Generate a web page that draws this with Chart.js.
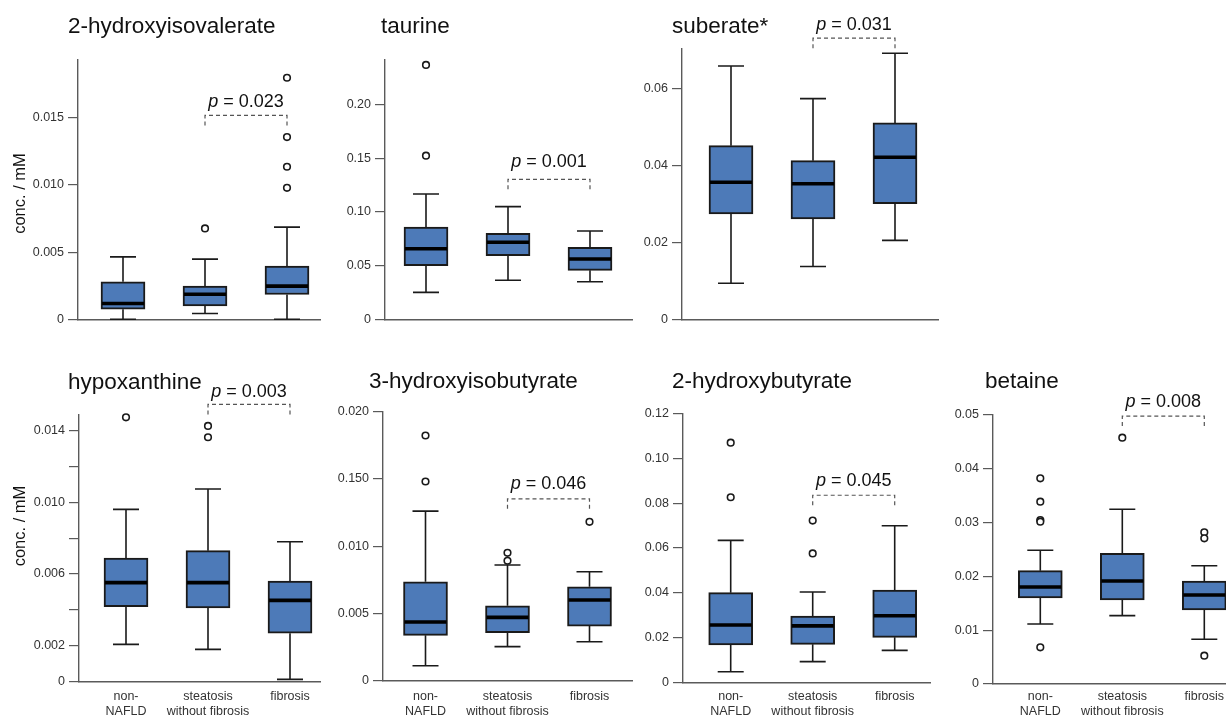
<!DOCTYPE html>
<html>
<head>
<meta charset="utf-8">
<script src="https://cdn.jsdelivr.net/npm/chart.js@4.4.1/dist/chart.umd.min.js"></script>
<style>
  html, body { margin: 0; padding: 0; background: #fff; overflow: hidden; }
  #wrap { position: relative; width: 1226px; height: 717px; overflow: hidden; }
  #wrap canvas { position: absolute; }
</style>
</head>
<body>
<div id="wrap"></div>
<script>
// groups on the x axis
const categories = ['non-NAFLD', 'steatosis without fibrosis', 'fibrosis'];
const categoryLabels = [['non-', 'NAFLD'], ['steatosis', 'without fibrosis'], ['fibrosis']];

// each box: [lower whisker, Q1, median, Q3, upper whisker], concentrations in mM
const hivTitle = '2-hydroxyisovalerate';
const hivBoxes = [[0.00002, 0.00077, 0.00119, 0.00280, 0.00466], [0.00045, 0.00101, 0.00188, 0.00248, 0.00449], [0.00002, 0.00186, 0.00248, 0.00397, 0.00687]];
const hivOutliers = [[1, 0.00677], [2, 0.01798], [2, 0.01357], [2, 0.01136], [2, 0.00979]];
const hivTicks = [0, 0.005, 0.010, 0.015];
const hivTickLabels = ['0', '0.005', '0.010', '0.015'];
const hivP = '0.023', hivBracket = 0.01518;

const tauTitle = 'taurine';
const tauBoxes = [[0.0251, 0.0499, 0.0657, 0.0859, 0.1167], [0.0363, 0.0592, 0.0717, 0.0801, 0.1049], [0.0350, 0.0456, 0.0561, 0.0670, 0.0822]];
const tauOutliers = [[0, 0.2368], [0, 0.1523]];
const tauTicks = [0, 0.05, 0.10, 0.15, 0.20];
const tauTickLabels = ['0', '0.05', '0.10', '0.15', '0.20'];
const tauP = '0.001', tauBracket = 0.1303;

const subTitle = 'suberate*';
const subBoxes = [[0.00935, 0.0274, 0.0356, 0.0451, 0.0658], [0.0137, 0.0261, 0.0352, 0.0412, 0.0573], [0.0205, 0.0300, 0.0421, 0.0510, 0.0691]];
const subOutliers = [];
const subTicks = [0, 0.02, 0.04, 0.06];
const subTickLabels = ['0', '0.02', '0.04', '0.06'];
const subP = '0.031', subBracket = 0.0730;

const hypTitle = 'hypoxanthine';
const hypBoxes = [[0.00208, 0.00418, 0.00552, 0.00689, 0.00960], [0.00180, 0.00411, 0.00552, 0.00730, 0.01074], [0.00013, 0.00270, 0.00453, 0.00561, 0.00780]];
const hypOutliers = [[0, 0.01473], [1, 0.01425], [1, 0.01362]];
const hypTicks = [0, 0.002, 0.004, 0.006, 0.008, 0.010, 0.012, 0.014];
const hypTickLabels = ['0', '0.002', '', '0.006', '', '0.010', '', '0.014'];
const hypP = '0.003', hypBracket = 0.01545;

const hibTitle = '3-hydroxyisobutyrate';
const hibBoxes = [[0.00111, 0.00337, 0.00436, 0.00736, 0.01261], [0.00253, 0.00357, 0.00471, 0.00557, 0.00860], [0.00290, 0.00406, 0.00600, 0.00698, 0.00810]];
const hibOutliers = [[0, 0.01823], [0, 0.01481], [1, 0.00951], [1, 0.00892], [2, 0.01181]];
const hibTicks = [0, 0.005, 0.010, 0.015, 0.020];
const hibTickLabels = ['0', '0.005', '0.010', '0.150', '0.020'];
const hibP = '0.046', hibBracket = 0.01352;

const hbTitle = '2-hydroxybutyrate';
const hbBoxes = [[0.0049, 0.0168, 0.0257, 0.0401, 0.0634], [0.0094, 0.0171, 0.0253, 0.0297, 0.0404], [0.0144, 0.0202, 0.0298, 0.0413, 0.0699]];
const hbOutliers = [[0, 0.1069], [0, 0.0826], [1, 0.0722], [1, 0.0576]];
const hbTicks = [0, 0.02, 0.04, 0.06, 0.08, 0.10, 0.12];
const hbTickLabels = ['0', '0.02', '0.04', '0.06', '0.08', '0.10', '0.12'];
const hbP = '0.045', hbBracket = 0.0835;

const betTitle = 'betaine';
const betBoxes = [[0.01115, 0.01599, 0.01803, 0.02106, 0.02485], [0.01270, 0.01561, 0.01914, 0.02429, 0.03247], [0.00831, 0.01375, 0.01654, 0.01914, 0.02199]];
const betOutliers = [[0, 0.03823], [0, 0.03389], [0, 0.03048], [0, 0.03017], [0, 0.00682], [1, 0.04578], [2, 0.0282], [2, 0.02708], [2, 0.00526]];
const betTicks = [0, 0.01, 0.02, 0.03, 0.04, 0.05];
const betTickLabels = ['0', '0.01', '0.02', '0.03', '0.04', '0.05'];
const betP = '0.008', betBracket = 0.0498;

const yAxisTitle = 'conc. / mM';

// panel placement on the page (pixels)
const panels = [
  { title: hivTitle, boxes: hivBoxes, outliers: hivOutliers, ticks: hivTicks, tickLabels: hivTickLabels, p: hivP, bracket: hivBracket,
    left: 0, top: 0, w: 335, h: 345, axisX: 78, plotTop: 60, plotBottom: 319.5, xEnd: 320, c0: 123, yMax: 0.0193,
    titlePos: [68, 27], yTitlePos: [20, 193.5], pGap: 8, xLabels: false },
  { title: tauTitle, boxes: tauBoxes, outliers: tauOutliers, ticks: tauTicks, tickLabels: tauTickLabels, p: tauP, bracket: tauBracket,
    left: 310, top: 0, w: 335, h: 345, axisX: 385, plotTop: 60, plotBottom: 319.3, xEnd: 632, c0: 426, yMax: 0.2414,
    titlePos: [381, 27], pGap: 12.5, xLabels: false },
  { title: subTitle, boxes: subBoxes, outliers: subOutliers, ticks: subTicks, tickLabels: subTickLabels, p: subP, bracket: subBracket,
    left: 607, top: 0, w: 345, h: 345, axisX: 682, plotTop: 49, plotBottom: 319.3, xEnd: 938, c0: 731, yMax: 0.0702,
    titlePos: [672, 27], pGap: 8, xLabels: false },
  { title: hypTitle, boxes: hypBoxes, outliers: hypOutliers, ticks: hypTicks, tickLabels: hypTickLabels, p: hypP, bracket: hypBracket,
    left: 0, top: 355, w: 335, h: 362, axisX: 79, plotTop: 415, plotBottom: 681.7, xEnd: 320, c0: 126, yMax: 0.01486,
    titlePos: [68, 382.7], yTitlePos: [20, 526], pGap: 7.6, xLabels: true },
  { title: hibTitle, boxes: hibBoxes, outliers: hibOutliers, ticks: hibTicks, tickLabels: hibTickLabels, p: hibP, bracket: hibBracket,
    left: 308, top: 355, w: 335, h: 362, axisX: 383, plotTop: 411.7, plotBottom: 680.7, xEnd: 632, c0: 425.5, yMax: 0.020,
    titlePos: [369, 381.7], pGap: 10, xLabels: true },
  { title: hbTitle, boxes: hbBoxes, outliers: hbOutliers, ticks: hbTicks, tickLabels: hbTickLabels, p: hbP, bracket: hbBracket,
    left: 608, top: 355, w: 335, h: 362, axisX: 683, plotTop: 413.3, plotBottom: 682.7, xEnd: 930, c0: 730.7, yMax: 0.12,
    titlePos: [672, 381.7], pGap: 9, xLabels: true },
  { title: betTitle, boxes: betBoxes, outliers: betOutliers, ticks: betTicks, tickLabels: betTickLabels, p: betP, bracket: betBracket,
    left: 918, top: 355, w: 345, h: 362, axisX: 993, plotTop: 415, plotBottom: 684, xEnd: 1248, c0: 1040.3, yMax: 0.05,
    titlePos: [985, 381.7], pGap: 9, xLabels: true }
];

const SPACING = 82;
const LABEL_LINE1 = 689.2; // top of the first x label line on the page
const FONT = "'Liberation Sans', Arial, Helvetica, sans-serif";
const BOX_FILL = 'rgb(77,122,184)';
const INK = '#1a1a1a';
const AXIS = '#5a5a5a';

Chart.defaults.font.family = FONT;
Chart.defaults.color = '#333';

// whiskers, medians, significance bracket and panel texts
const boxExtras = {
  id: 'boxExtras',
  beforeDatasetsDraw(chart, args, opts) {
    const { ctx, scales: { x, y } } = chart;
    ctx.save();
    ctx.strokeStyle = INK;
    ctx.lineWidth = 1.6;
    opts.boxes.forEach((b, i) => {
      const cx = x.getPixelForValue(i);
      const lo = y.getPixelForValue(b[0]), q1 = y.getPixelForValue(b[1]);
      const q3 = y.getPixelForValue(b[3]), hi = y.getPixelForValue(b[4]);
      ctx.beginPath();
      ctx.moveTo(cx, q3); ctx.lineTo(cx, hi);
      ctx.moveTo(cx - 13, hi); ctx.lineTo(cx + 13, hi);
      ctx.moveTo(cx, q1); ctx.lineTo(cx, lo);
      ctx.moveTo(cx - 13, lo); ctx.lineTo(cx + 13, lo);
      ctx.stroke();
    });
    ctx.restore();
  },
  afterDatasetsDraw(chart, args, opts) {
    const { ctx, scales: { x, y } } = chart;
    ctx.save();
    // medians
    ctx.strokeStyle = '#000';
    ctx.lineWidth = 3.6;
    opts.boxes.forEach((b, i) => {
      const cx = x.getPixelForValue(i);
      const m = y.getPixelForValue(b[2]);
      ctx.beginPath();
      ctx.moveTo(cx - 21, m); ctx.lineTo(cx + 21, m);
      ctx.stroke();
    });
    // dashed bracket between group 2 and 3
    const bx1 = x.getPixelForValue(1), bx2 = x.getPixelForValue(2);
    const by = y.getPixelForValue(opts.bracket);
    ctx.strokeStyle = '#555';
    ctx.lineWidth = 1.2;
    ctx.setLineDash([4, 3]);
    ctx.beginPath();
    ctx.moveTo(bx1, by + 10); ctx.lineTo(bx1, by); ctx.lineTo(bx2, by); ctx.lineTo(bx2, by + 10);
    ctx.stroke();
    ctx.setLineDash([]);
    // p value
    ctx.fillStyle = '#111';
    ctx.textBaseline = 'alphabetic';
    ctx.textAlign = 'left';
    const italic = 'italic 18px ' + FONT, normal = '18px ' + FONT;
    ctx.font = italic;
    const wp = ctx.measureText('p').width;
    ctx.font = normal;
    const rest = ' = ' + opts.p;
    const wr = ctx.measureText(rest).width;
    const tx = (bx1 + bx2) / 2 - (wp + wr) / 2;
    const ty = by - opts.pGap;
    ctx.font = italic;
    ctx.fillText('p', tx, ty);
    ctx.font = normal;
    ctx.fillText(rest, tx + wp, ty);
    ctx.restore();
  },
  afterDraw(chart, args, opts) {
    const { ctx } = chart;
    ctx.save();
    ctx.fillStyle = '#111';
    ctx.textBaseline = 'middle';
    ctx.textAlign = 'left';
    ctx.font = '22.5px ' + FONT;
    ctx.fillText(opts.title, opts.titlePos[0] - opts.left, opts.titlePos[1] - opts.top);
    if (opts.yTitlePos) {
      ctx.translate(opts.yTitlePos[0] - opts.left, opts.yTitlePos[1] - opts.top);
      ctx.rotate(-Math.PI / 2);
      ctx.textAlign = 'center';
      ctx.font = '16.5px ' + FONT;
      ctx.fillText(yAxisTitle, 0, 0);
    }
    ctx.restore();
  }
};

const wrap = document.getElementById('wrap');

panels.forEach(pn => {
  const cv = document.createElement('canvas');
  cv.width = pn.w; cv.height = pn.h;
  cv.style.left = pn.left + 'px';
  cv.style.top = pn.top + 'px';
  cv.style.width = pn.w + 'px';
  cv.style.height = pn.h + 'px';
  wrap.appendChild(cv);

  const chart = new Chart(cv.getContext('2d'), {
    type: 'bar',
    data: {
      datasets: [
        {
          type: 'scatter',
          data: pn.outliers.map(o => ({ x: o[0], y: o[1] })),
          pointStyle: 'circle',
          pointRadius: 3.3,
          pointBorderWidth: 1.6,
          pointBorderColor: INK,
          pointBackgroundColor: '#fff',
          clip: false
        },
        {
          type: 'bar',
          data: pn.boxes.map((b, i) => ({ x: i, y: [b[1], b[3]] })),
          backgroundColor: BOX_FILL,
          borderColor: INK,
          borderWidth: 2,
          borderSkipped: false,
          barThickness: 44
        }
      ]
    },
    options: {
      responsive: false,
      animation: false,
      events: [],
      layout: { padding: { left: 0, top: pn.plotTop - pn.top, right: pn.left + pn.w - pn.xEnd, bottom: 0 } },
      plugins: {
        legend: { display: false },
        tooltip: { enabled: false },
        boxExtras: {
          boxes: pn.boxes, bracket: pn.bracket, p: pn.p, pGap: pn.pGap,
          title: pn.title, titlePos: pn.titlePos, yTitlePos: pn.yTitlePos,
          left: pn.left, top: pn.top
        }
      },
      scales: {
        x: {
          type: 'linear',
          offset: false,
          min: -(pn.c0 - pn.axisX) / SPACING,
          max: (pn.xEnd - pn.c0) / SPACING,
          afterBuildTicks: s => { s.ticks = categories.map((c, i) => ({ value: i })); },
          afterFit: s => { s.height = pn.top + pn.h - pn.plotBottom; },
          grid: { display: false, drawTicks: false },
          border: { display: true, color: AXIS, width: 1.4 },
          ticks: {
            display: pn.xLabels,
            autoSkip: false,
            maxRotation: 0,
            padding: LABEL_LINE1 - pn.plotBottom,
            font: { size: 12.5, lineHeight: 1.2 },
            color: '#333',
            callback: (v, i) => categoryLabels[i]
          }
        },
        y: {
          type: 'linear',
          min: 0,
          max: pn.yMax,
          afterBuildTicks: s => { s.ticks = pn.ticks.map(v => ({ value: v })); },
          afterFit: s => { s.width = pn.axisX - pn.left; },
          grid: { display: true, drawOnChartArea: false, drawTicks: true, tickLength: 10, color: AXIS, lineWidth: 1.2 },
          border: { display: true, color: AXIS, width: 1.4 },
          ticks: {
            autoSkip: false,
            padding: 4,
            font: { size: 12.5 },
            color: '#333',
            callback: (v, i) => pn.tickLabels[i]
          }
        }
      }
    },
    plugins: [boxExtras]
  });

  // nudge the right padding so the x axis ends where the panel's axis ends
  const diff = (pn.xEnd - pn.left) - chart.chartArea.right;
  if (Math.abs(diff) > 0.2) {
    chart.options.layout.padding.right -= diff;
    chart.update();
  }
});
</script>
</body>
</html>
